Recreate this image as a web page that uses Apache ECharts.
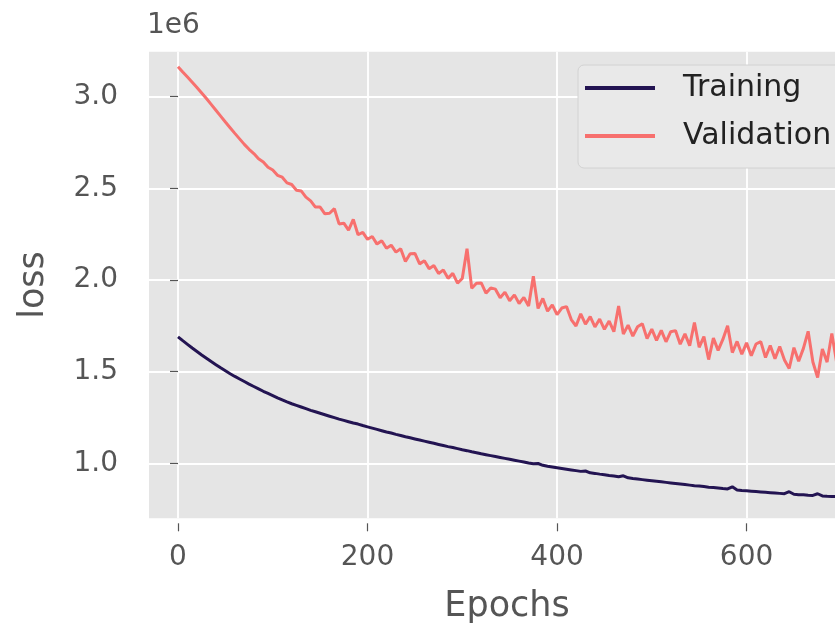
<!DOCTYPE html>
<html>
<head>
<meta charset="utf-8">
<script src="https://cdn.jsdelivr.net/npm/echarts@6/dist/echarts.min.js"></script>
<style>
  html, body { margin: 0; padding: 0; background: #ffffff; }
  #chart { width: 835px; height: 630px; }
</style>
</head>
<body>
<div id="chart"></div>
<script>
// Epoch index of each sample
const epochs = [0,5,10,15,20,25,30,35,40,45,50,55,60,65,70,75,80,85,90,95,
  100,105,110,115,120,125,130,135,140,145,150,155,160,165,170,175,180,185,190,195,
  200,205,210,215,220,225,230,235,240,245,250,255,260,265,270,275,280,285,290,295,
  300,305,310,315,320,325,330,335,340,345,350,355,360,365,370,375,380,385,390,395,
  400,405,410,415,420,425,430,435,440,445,450,455,460,465,470,475,480,485,490,495,
  500,505,510,515,520,525,530,535,540,545,550,555,560,565,570,575,580,585,590,595,
  600,605,610,615,620,625,630,635,640,645,650,655,660,665,670,675,680,685,690,695,700];

// Training loss (units of 1e6)
const trainingLoss = [1.690,1.669,1.649,1.629,1.610,1.591,1.573,1.555,1.538,1.521,
  1.505,1.489,1.474,1.460,1.446,1.432,1.419,1.406,1.393,1.381,
  1.369,1.357,1.346,1.335,1.325,1.316,1.307,1.298,1.289,1.281,
  1.273,1.265,1.257,1.249,1.241,1.234,1.227,1.220,1.214,1.206,
  1.199,1.192,1.185,1.178,1.171,1.165,1.158,1.152,1.145,1.139,
  1.133,1.127,1.121,1.115,1.109,1.103,1.097,1.091,1.086,1.080,
  1.074,1.069,1.063,1.058,1.052,1.047,1.042,1.037,1.032,1.027,
  1.022,1.017,1.012,1.007,1.002,0.998,0.999,0.989,0.984,0.980,
  0.976,0.972,0.968,0.964,0.960,0.956,0.958,0.948,0.945,0.941,
  0.938,0.934,0.931,0.927,0.932,0.921,0.917,0.914,0.911,0.908,
  0.905,0.902,0.899,0.896,0.893,0.890,0.887,0.884,0.881,0.878,
  0.876,0.873,0.870,0.868,0.865,0.862,0.860,0.872,0.855,0.852,
  0.850,0.848,0.846,0.844,0.842,0.840,0.838,0.836,0.834,0.845,
  0.831,0.829,0.828,0.826,0.825,0.834,0.822,0.820,0.819,0.818,0.817];

// Validation loss (units of 1e6)
const validationLoss = [3.164,3.135,3.107,3.079,3.050,3.020,2.990,2.958,2.926,2.894,
  2.862,2.831,2.800,2.770,2.740,2.713,2.690,2.661,2.644,2.615,
  2.600,2.571,2.561,2.530,2.521,2.490,2.486,2.452,2.432,2.398,
  2.398,2.361,2.364,2.389,2.306,2.310,2.272,2.331,2.247,2.260,
  2.222,2.237,2.196,2.214,2.173,2.190,2.152,2.170,2.101,2.143,
  2.145,2.088,2.105,2.062,2.079,2.035,2.055,2.009,2.036,1.983,
  2.008,2.171,1.955,1.982,1.984,1.928,1.957,1.950,1.903,1.934,
  1.887,1.919,1.872,1.905,1.858,2.021,1.845,1.899,1.830,1.864,
  1.811,1.847,1.855,1.784,1.749,1.815,1.759,1.800,1.744,1.787,
  1.731,1.776,1.718,1.858,1.705,1.754,1.694,1.745,1.762,1.680,
  1.732,1.671,1.725,1.663,1.718,1.724,1.650,1.706,1.642,1.768,
  1.633,1.691,1.566,1.683,1.616,1.676,1.750,1.604,1.665,1.595,
  1.657,1.587,1.651,1.664,1.577,1.643,1.570,1.637,1.564,1.517,
  1.631,1.557,1.627,1.720,1.553,1.468,1.624,1.552,1.708,1.552,1.624];

const xTicks = [0, 200, 400, 600];
const yTicks = [1.0, 1.5, 2.0, 2.5, 3.0];
const seriesNames = ['Training', 'Validation'];
const scaleLabel = '1e6';
const xName = 'Epochs';
const yName = 'loss';

const FONT = 'DejaVu Sans';
const chart = echarts.init(document.getElementById('chart'), null, { renderer: 'canvas' });

const option = {
  animation: false,
  backgroundColor: '#ffffff',
  textStyle: { fontFamily: FONT },
  grid: {
    left: 149, top: 51.7, width: 716, height: 466.6,
    outerBoundsMode: 'none',
    containLabel: false,
    show: true, backgroundColor: '#E5E5E5', borderWidth: 0
  },
  legend: {
    data: seriesNames,
    orient: 'vertical',
    left: 578, top: 65,
    icon: 'rect',
    itemWidth: 70, itemHeight: 4,
    itemGap: 14,
    padding: [6, 20, 15, 7],
    backgroundColor: '#E9E9E9',
    borderColor: '#D2D2D2',
    borderWidth: 1,
    borderRadius: 6,
    textStyle: { fontFamily: FONT, fontSize: 30, color: '#222222', lineHeight: 34, padding: [0, 0, 0, 23] }
  },
  graphic: [{
    type: 'text', left: 147, top: 12,
    style: { text: scaleLabel, font: '28px "DejaVu Sans"', fill: '#555555' }
  }],
  xAxis: {
    type: 'value',
    min: -30.6, max: 725,
    offset: 5,
    name: xName, nameLocation: 'middle', nameGap: 66,
    nameTextStyle: { fontFamily: FONT, fontSize: 35, color: '#555555' },
    axisLine: { show: false },
    axisTick: { show: true, length: 8, lineStyle: { color: '#555555', width: 1.2 }, customValues: xTicks },
    axisLabel: { fontFamily: FONT, fontSize: 28, color: '#555555', margin: 20, customValues: xTicks,
      formatter: v => String(Math.round(v)) },
    splitLine: { show: true, lineStyle: { color: '#FFFFFF', width: 1.8 } }
  },
  yAxis: {
    type: 'value',
    min: 0.70, max: 3.2455,
    offset: 4,
    name: yName, nameLocation: 'middle', nameGap: 94,
    nameTextStyle: { fontFamily: FONT, fontSize: 35, color: '#555555' },
    axisLine: { show: false },
    axisTick: { show: true, length: 8, lineStyle: { color: '#555555', width: 1.2 }, customValues: yTicks },
    axisLabel: { fontFamily: FONT, fontSize: 28, color: '#555555', margin: 27, customValues: yTicks,
      formatter: v => v.toFixed(1) },
    splitLine: { show: true, lineStyle: { color: '#FFFFFF', width: 1.8 } }
  },
  series: [
    {
      name: seriesNames[0], type: 'line', showSymbol: false, symbol: 'none',
      data: epochs.map((e, i) => [e, trainingLoss[i]]),
      lineStyle: { color: '#231452', width: 3 },
      itemStyle: { color: '#231452' },
      z: 3
    },
    {
      name: seriesNames[1], type: 'line', showSymbol: false, symbol: 'none',
      data: epochs.map((e, i) => [e, validationLoss[i]]),
      lineStyle: { color: '#F7706E', width: 3 },
      itemStyle: { color: '#F7706E' },
      z: 3
    }
  ]
};
chart.setOption(option);
</script>
</body>
</html>
